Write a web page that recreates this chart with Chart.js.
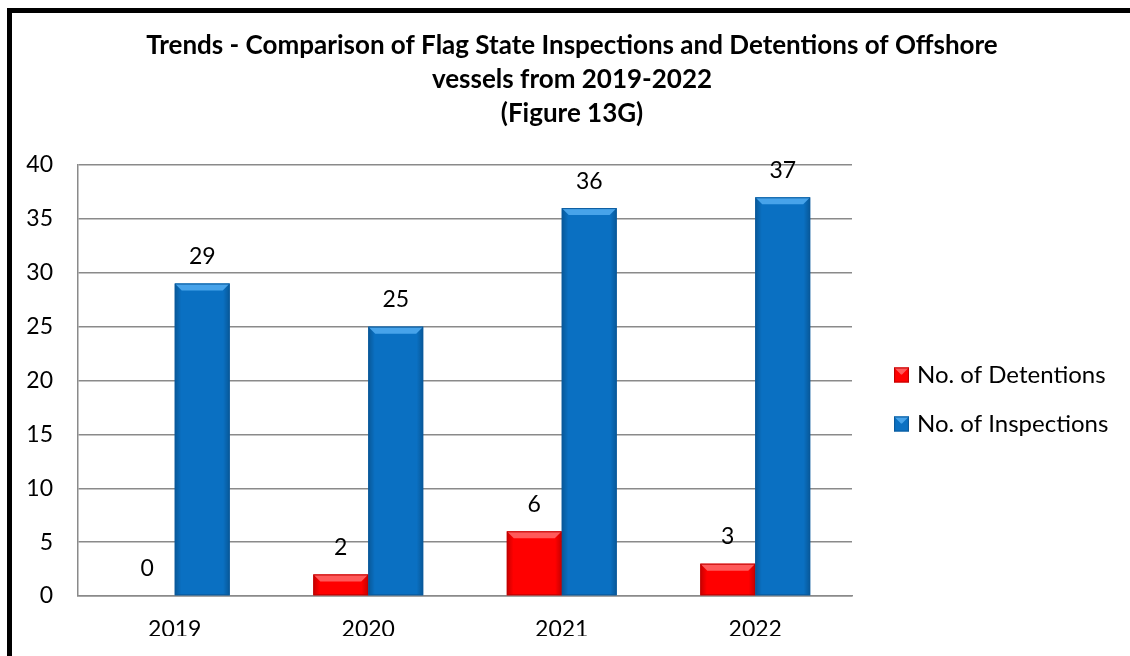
<!DOCTYPE html>
<html><head><meta charset="utf-8">
<script src="https://cdn.jsdelivr.net/npm/chart.js@4.4.0/dist/chart.umd.min.js"></script>
<style>
html,body{margin:0;padding:0;background:#fff;overflow:hidden;}
#frame{position:absolute;left:7px;top:8px;width:1200px;height:700px;border:5px solid #000;box-sizing:border-box;}
#wrap{position:absolute;left:0;top:0;width:1130px;height:656px;}
</style></head><body>
<div id="frame"></div>
<div id="wrap"><canvas id="c" width="1130" height="656"></canvas></div>
<script>
const categories = ['2019', '2020', '2021', '2022'];
const detentions = [0, 2, 6, 3];
const inspections = [29, 25, 36, 37];
const seriesNames = ['No. of Detentions', 'No. of Inspections'];
const titleLines = ['Trends - Comparison of Flag State Inspections and Detentions of Offshore', 'vessels from 2019-2022', '(Figure 13G)'];
const yMin = 0, yMax = 40, yStep = 5;

const FONT = 'Lato';
const palette = [
  {main: '#FF0000', light: '#FF5a5a', dark: '#C00000'},
  {main: '#0A70C2', light: '#47A3EA', dark: '#0A5A9C'}
];

function bevel(ctx, left, top, right, bottom, pal) {
  const w = right - left, h = bottom - top;
  if (h < 1) return;
  ctx.save();
  const g = ctx.createLinearGradient(left, 0, right, 0);
  g.addColorStop(0, 'rgba(0,0,0,0.22)');
  g.addColorStop(0.12, 'rgba(0,0,0,0)');
  g.addColorStop(0.88, 'rgba(0,0,0,0)');
  g.addColorStop(1, 'rgba(0,0,0,0.22)');
  ctx.fillStyle = g;
  ctx.fillRect(left, top, w, h);
  const b = Math.min(7, h / 2);
  ctx.beginPath();
  ctx.moveTo(left, top); ctx.lineTo(right, top);
  ctx.lineTo(right - b, top + b); ctx.lineTo(left + b, top + b);
  ctx.closePath();
  ctx.fillStyle = pal.light;
  ctx.fill();
  ctx.strokeStyle = pal.dark;
  ctx.lineWidth = 1;
  ctx.strokeRect(left + 0.5, top + 0.5, w - 1, h - 1);
  ctx.restore();
}

const decor = {
  id: 'decor',
  afterDatasetsDraw(chart) {
    const ctx = chart.ctx;
    chart.data.datasets.forEach((ds, di) => {
      const meta = chart.getDatasetMeta(di);
      meta.data.forEach((bar, i) => {
        const p = bar.getProps(['x', 'y', 'base', 'width'], true);
        const left = p.x - p.width / 2, right = p.x + p.width / 2;
        bevel(ctx, left, p.y, right, p.base, palette[di]);
        ctx.save();
        ctx.font = '23px ' + FONT;
        ctx.fillStyle = '#000';
        ctx.textAlign = 'center';
        ctx.textBaseline = 'middle';
        ctx.fillText(String(ds.data[i]), p.x, p.y - 27);
        ctx.restore();
      });
    });
  },
  afterDraw(chart) {
    const ctx = chart.ctx;
    const ys = [375, 424];
    chart.data.datasets.forEach((ds, di) => {
      const cy = ys[di];
      ctx.save();
      ctx.fillStyle = palette[di].main;
      ctx.fillRect(894, cy - 7.5, 15, 15);
      bevel(ctx, 894, cy - 7.5, 909, cy + 7.5, palette[di]);
      ctx.font = '24px ' + FONT;
      ctx.fillStyle = '#000';
      ctx.textAlign = 'left';
      ctx.textBaseline = 'middle';
      ctx.fillText(ds.label, 917, cy);
      ctx.restore();
    });
  }
};

new Chart(document.getElementById('c'), {
  type: 'bar',
  data: {
    labels: categories,
    datasets: [
      {label: seriesNames[0], data: detentions, backgroundColor: palette[0].main},
      {label: seriesNames[1], data: inspections, backgroundColor: palette[1].main}
    ]
  },
  options: {
    responsive: false,
    animation: false,
    devicePixelRatio: 1,
    layout: {padding: {left: 14, right: 0, top: 0, bottom: 20}},
    datasets: {bar: {categoryPercentage: 0.568, barPercentage: 1.0, borderWidth: 0}},
    plugins: {
      legend: {display: false},
      tooltip: {enabled: false},
      title: {
        display: true,
        text: titleLines,
        color: '#000',
        font: {family: FONT, size: 26, weight: 'bold', lineHeight: 34 / 26},
        padding: {top: 29, bottom: 34}
      }
    },
    scales: {
      x: {
        grid: {display: false, drawTicks: false},
        border: {display: true, color: '#8a8a8a', width: 1.5},
        ticks: {color: '#000', font: {family: FONT, size: 23}, padding: 20},
        afterFit(s) { s.height = 40; }
      },
      y: {
        min: yMin, max: yMax,
        grid: {color: '#8a8a8a', lineWidth: 1.5, drawTicks: false},
        border: {display: true, color: '#8a8a8a', width: 1.5},
        ticks: {stepSize: yStep, color: '#000', font: {family: FONT, size: 23}, padding: 25},
        afterFit(s) { s.width = 64; }
      },
      legendSpace: {
        type: 'linear',
        position: 'right',
        display: true,
        grid: {display: false, drawTicks: false},
        border: {display: false},
        ticks: {display: false},
        afterFit(s) { s.width = 278; }
      }
    }
  },
  plugins: [decor]
});
</script>
</body></html>
